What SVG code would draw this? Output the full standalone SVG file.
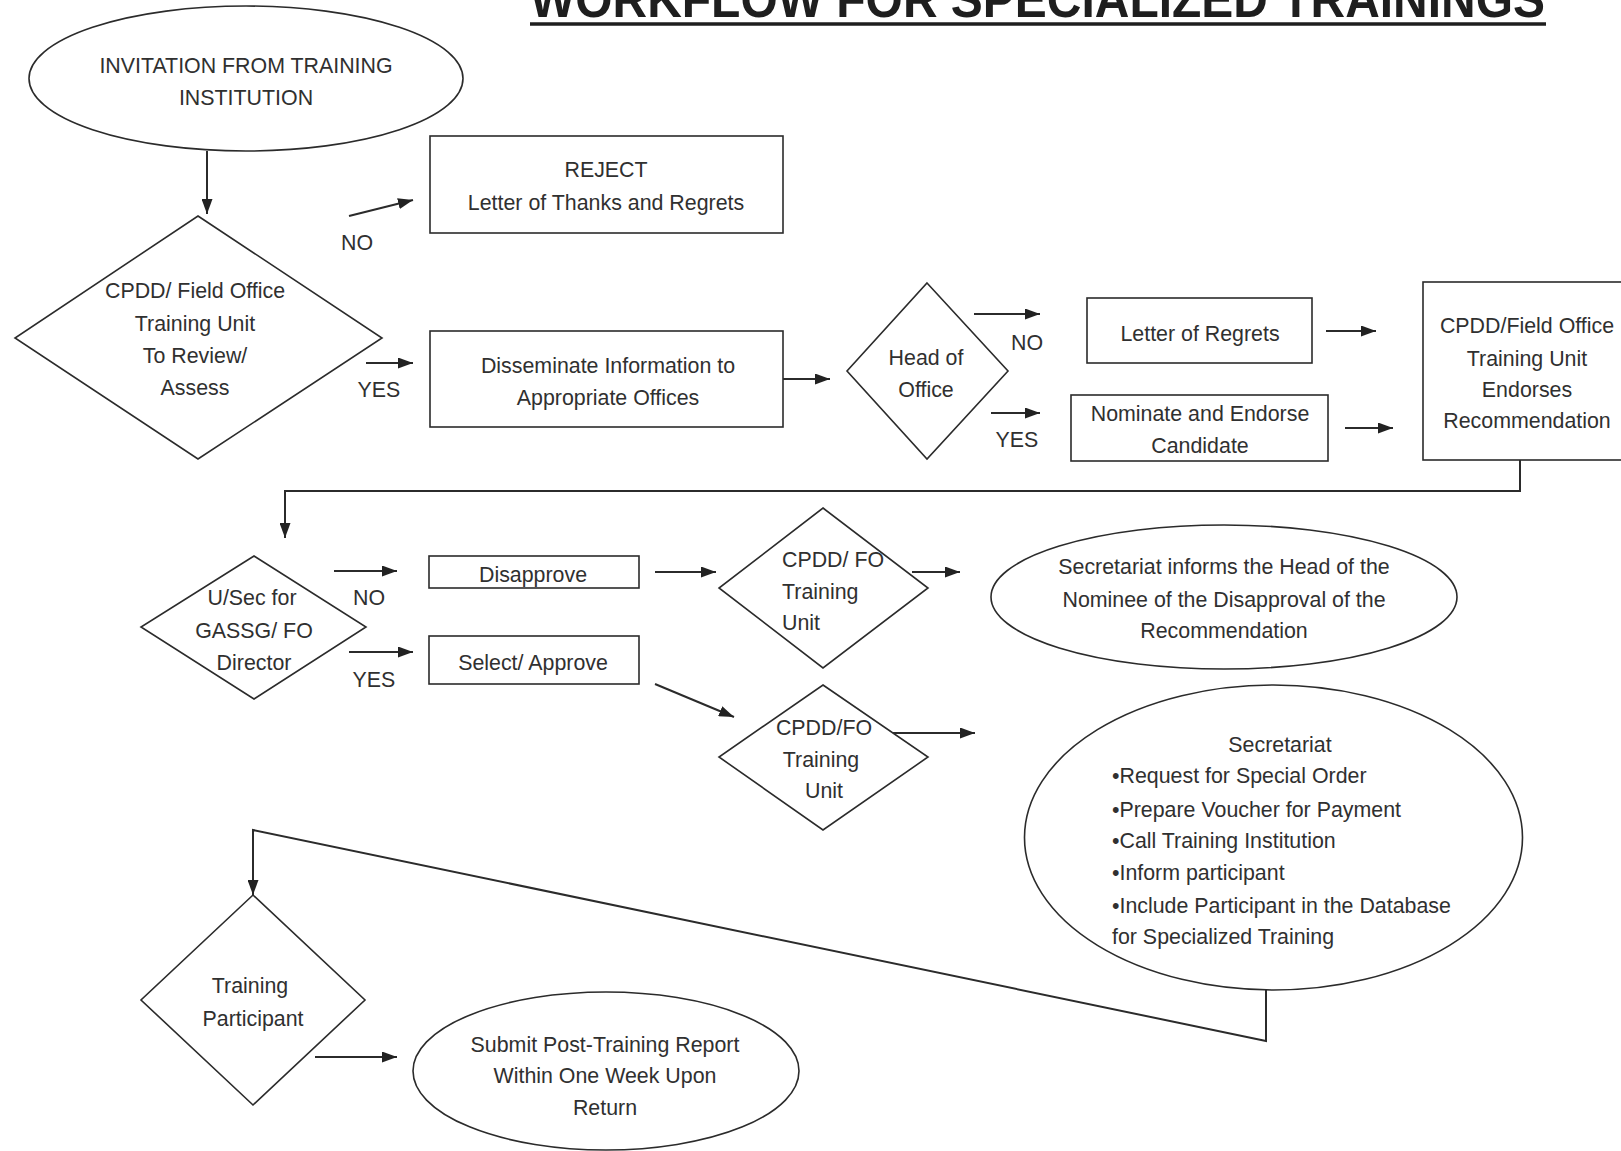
<svg xmlns="http://www.w3.org/2000/svg" width="1621" height="1151" viewBox="0 0 1621 1151">
<defs>
<style>
.s{fill:none;stroke:#2b2b2b;stroke-width:1.6}
.c{fill:none;stroke:#2b2b2b;stroke-width:2}
text{font-family:"Liberation Sans",Arial,sans-serif;font-size:23px;fill:#303030}
.m{text-anchor:middle}
.l{text-anchor:start}
.t{font-weight:bold;font-size:52px;fill:#1e1e1e}
</style>
<marker id="ah" markerWidth="15" markerHeight="11" refX="15" refY="5.5" orient="auto" markerUnits="userSpaceOnUse">
<path d="M0,0 L15,5.5 L0,11 z" fill="#222"/>
</marker>
</defs>
<rect width="1621" height="1151" fill="#fff"/>

<g id="title">
<text class="t" x="530" y="17" textLength="1015" lengthAdjust="spacingAndGlyphs">WORKFLOW FOR SPECIALIZED TRAININGS</text>
<line x1="530" y1="24" x2="1546" y2="24" stroke="#1e1e1e" stroke-width="3.5"/>
</g>

<g id="invitation">
<ellipse class="s" cx="246" cy="78.5" rx="217" ry="72.5"/>
<text class="m" font-size="23.5" transform="translate(246,73) scale(0.93,1)">INVITATION FROM TRAINING</text>
<text class="m" font-size="23.5" transform="translate(246,105) scale(0.93,1)">INSTITUTION</text>
</g>

<g id="review">
<polygon class="s" points="198,216 382,338 198,459 15,338"/>
<text class="m" transform="translate(195,298) scale(0.93,1)">CPDD/ Field Office</text>
<text class="m" transform="translate(195,331) scale(0.93,1)">Training Unit</text>
<text class="m" transform="translate(195,363) scale(0.93,1)">To Review/</text>
<text class="m" transform="translate(195,395) scale(0.93,1)">Assess</text>
</g>

<g id="reject">
<rect class="s" x="430" y="136" width="353" height="97"/>
<text class="m" transform="translate(606,177) scale(0.93,1)">REJECT</text>
<text class="m" transform="translate(606,210) scale(0.93,1)">Letter of Thanks and Regrets</text>
</g>

<g id="disseminate">
<rect class="s" x="430" y="331" width="353" height="96"/>
<text class="m" transform="translate(608,373) scale(0.93,1)">Disseminate Information to</text>
<text class="m" transform="translate(608,405) scale(0.93,1)">Appropriate Offices</text>
</g>

<g id="head">
<polygon class="s" points="927,283 1008,371 927,459 847,371"/>
<text class="m" transform="translate(926,365) scale(0.93,1)">Head of</text>
<text class="m" transform="translate(926,397) scale(0.93,1)">Office</text>
</g>

<g id="regrets">
<rect class="s" x="1087" y="298" width="225" height="65"/>
<text class="m" transform="translate(1200,341) scale(0.93,1)">Letter of Regrets</text>
</g>

<g id="nominate">
<rect class="s" x="1071" y="395" width="257" height="66"/>
<text class="m" transform="translate(1200,421) scale(0.93,1)">Nominate and Endorse</text>
<text class="m" transform="translate(1200,453) scale(0.93,1)">Candidate</text>
</g>

<g id="endorse">
<rect class="s" x="1423" y="282" width="215" height="178"/>
<text class="m" transform="translate(1527,333) scale(0.93,1)">CPDD/Field Office</text>
<text class="m" transform="translate(1527,366) scale(0.93,1)">Training Unit</text>
<text class="m" transform="translate(1527,397) scale(0.93,1)">Endorses</text>
<text class="m" transform="translate(1527,428) scale(0.93,1)">Recommendation</text>
</g>

<g id="usec">
<polygon class="s" points="254,556 366,627 254,699 141,627"/>
<text class="m" transform="translate(252,605) scale(0.93,1)">U/Sec for</text>
<text class="m" transform="translate(254,638) scale(0.93,1)">GASSG/ FO</text>
<text class="m" transform="translate(254,670) scale(0.93,1)">Director</text>
</g>

<g id="disapprove">
<rect class="s" x="429" y="556" width="210" height="32"/>
<text class="m" transform="translate(533,582) scale(0.93,1)">Disapprove</text>
</g>

<g id="approve">
<rect class="s" x="429" y="636" width="210" height="48"/>
<text class="m" transform="translate(533,670) scale(0.93,1)">Select/ Approve</text>
</g>

<g id="fo1">
<polygon class="s" points="823,508 928,588 823,668 719,588"/>
<text class="l" transform="translate(782,567) scale(0.93,1)">CPDD/ FO</text>
<text class="l" transform="translate(782,599) scale(0.93,1)">Training</text>
<text class="l" transform="translate(782,630) scale(0.93,1)">Unit</text>
</g>

<g id="fo2">
<polygon class="s" points="823,685 928,757 823,830 719,757"/>
<text class="m" transform="translate(824,735) scale(0.93,1)">CPDD/FO</text>
<text class="m" transform="translate(821,767) scale(0.93,1)">Training</text>
<text class="m" transform="translate(824,798) scale(0.93,1)">Unit</text>
</g>

<g id="inform">
<ellipse class="s" cx="1224" cy="597" rx="233" ry="72"/>
<text class="m" transform="translate(1224,574) scale(0.93,1)">Secretariat informs the Head of the</text>
<text class="m" transform="translate(1224,607) scale(0.93,1)">Nominee of the Disapproval of the</text>
<text class="m" transform="translate(1224,638) scale(0.93,1)">Recommendation</text>
</g>

<g id="secretariat">
<ellipse class="s" cx="1273.5" cy="837.5" rx="249" ry="152.5"/>
<text class="m" transform="translate(1280,752) scale(0.93,1)">Secretariat</text>
<text class="l" transform="translate(1112,783) scale(0.93,1)">•Request for Special Order</text>
<text class="l" transform="translate(1112,817) scale(0.93,1)">•Prepare Voucher for Payment</text>
<text class="l" transform="translate(1112,848) scale(0.93,1)">•Call Training Institution</text>
<text class="l" transform="translate(1112,880) scale(0.93,1)">•Inform participant</text>
<text class="l" transform="translate(1112,913) scale(0.93,1)">•Include Participant in the Database</text>
<text class="l" transform="translate(1112,944) scale(0.93,1)">for Specialized Training</text>
</g>

<g id="participant">
<polygon class="s" points="253,895 365,1000 253,1105 141,1000"/>
<text class="m" transform="translate(250,993) scale(0.93,1)">Training</text>
<text class="m" transform="translate(253,1026) scale(0.93,1)">Participant</text>
</g>

<g id="report">
<ellipse class="s" cx="606" cy="1071" rx="193" ry="79"/>
<text class="m" transform="translate(605,1052) scale(0.93,1)">Submit Post-Training Report</text>
<text class="m" transform="translate(605,1083) scale(0.93,1)">Within One Week Upon</text>
<text class="m" transform="translate(605,1115) scale(0.93,1)">Return</text>
</g>

<g id="labels">
<text class="m" transform="translate(357,250) scale(0.93,1)">NO</text>
<text class="m" transform="translate(379,397) scale(0.93,1)">YES</text>
<text class="m" transform="translate(1027,350) scale(0.93,1)">NO</text>
<text class="m" transform="translate(1017,447) scale(0.93,1)">YES</text>
<text class="m" transform="translate(369,605) scale(0.93,1)">NO</text>
<text class="m" transform="translate(374,687) scale(0.93,1)">YES</text>
</g>

<g id="connectors">
<line class="c" x1="207" y1="151" x2="207" y2="214" marker-end="url(#ah)"/>
<line class="c" x1="349" y1="216" x2="413" y2="200" marker-end="url(#ah)"/>
<line class="c" x1="366" y1="363" x2="413" y2="363" marker-end="url(#ah)"/>
<line class="c" x1="783" y1="379" x2="830" y2="379" marker-end="url(#ah)"/>
<line class="c" x1="974" y1="314" x2="1040" y2="314" marker-end="url(#ah)"/>
<line class="c" x1="991" y1="413" x2="1040" y2="413" marker-end="url(#ah)"/>
<line class="c" x1="1326" y1="331" x2="1376" y2="331" marker-end="url(#ah)"/>
<line class="c" x1="1345" y1="428" x2="1393" y2="428" marker-end="url(#ah)"/>
<polyline class="c" points="1520,460 1520,491 285,491 285,538" marker-end="url(#ah)"/>
<line class="c" x1="334" y1="571" x2="397" y2="571" marker-end="url(#ah)"/>
<line class="c" x1="349" y1="652" x2="413" y2="652" marker-end="url(#ah)"/>
<line class="c" x1="655" y1="572" x2="716" y2="572" marker-end="url(#ah)"/>
<line class="c" x1="655" y1="684" x2="734" y2="717" marker-end="url(#ah)"/>
<line class="c" x1="912" y1="572" x2="960" y2="572" marker-end="url(#ah)"/>
<line class="c" x1="893" y1="733" x2="975" y2="733" marker-end="url(#ah)"/>
<polyline class="c" points="1266,990 1266,1041 253,830 253,895" marker-end="url(#ah)"/>
<line class="c" x1="315" y1="1057" x2="397" y2="1057" marker-end="url(#ah)"/>
</g>
</svg>
